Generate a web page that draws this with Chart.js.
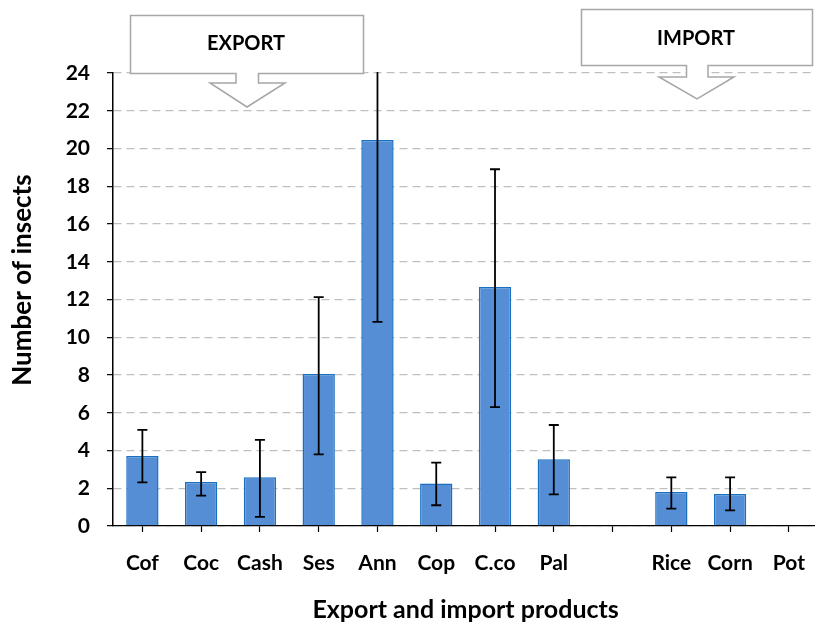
<!DOCTYPE html>
<html>
<head>
<meta charset="utf-8">
<script src="https://cdn.jsdelivr.net/npm/chart.js@4/dist/chart.umd.min.js"></script>
<style>
  html, body { margin: 0; padding: 0; background: #fff; overflow: hidden; }
  #wrap { width: 824px; height: 626px; }
</style>
</head>
<body>
<div id="wrap"><canvas id="c" width="824" height="626"></canvas></div>
<script>
// Products (blank slot separates export and import groups)
const categories = ['Cof', 'Coc', 'Cash', 'Ses', 'Ann', 'Cop', 'C.co', 'Pal', '', 'Rice', 'Corn', 'Pot'];
// Mean number of insects per product
const meanInsects = [3.71, 2.33, 2.58, 8.05, 20.45, 2.25, 12.66, 3.53, null, 1.80, 1.70, 0];
// Error bar ends (lower / upper)
const errLow  = [2.31, 1.61, 0.48, 3.80, 10.81, 1.10, 6.30, 1.68, null, 0.92, 0.83, null];
const errHigh = [5.09, 2.85, 4.56, 12.13, 30.10, 3.36, 18.90, 5.35, null, 2.58, 2.58, null];
// Y axis range and step
const yTicks = { min: 0, max: 24, step: 2 };
// Callout labels
const callouts = ['EXPORT', 'IMPORT'];

const FONT = 'Lato, "Liberation Sans", sans-serif';

const errorBars = {
  id: 'errorBars',
  afterDatasetsDraw(chart) {
    const { ctx, chartArea } = chart;
    const x = chart.scales.x, y = chart.scales.y;
    ctx.save();
    ctx.beginPath();
    ctx.rect(chartArea.left, chartArea.top - 1, chartArea.right - chartArea.left, chartArea.bottom - chartArea.top + 2);
    ctx.clip();
    ctx.strokeStyle = '#000';
    ctx.lineWidth = 1.8;
    const cap = 5;
    categories.forEach((c, i) => {
      if (errLow[i] == null || errHigh[i] == null) return;
      const px = x.getPixelForValue(i);
      const yl = y.getPixelForValue(errLow[i]);
      const yh = y.getPixelForValue(errHigh[i]);
      ctx.beginPath();
      ctx.moveTo(px, yl); ctx.lineTo(px, yh);
      ctx.moveTo(px - cap, yl); ctx.lineTo(px + cap, yl);
      ctx.moveTo(px - cap, yh); ctx.lineTo(px + cap, yh);
      ctx.stroke();
    });
    ctx.restore();
  }
};

function calloutPath(ctx, b) {
  ctx.beginPath();
  ctx.moveTo(b.l, b.t);
  ctx.lineTo(b.r, b.t);
  ctx.lineTo(b.r, b.b);
  ctx.lineTo(b.sr, b.b);
  ctx.lineTo(b.sr, b.sb);
  ctx.lineTo(b.hr, b.sb);
  ctx.lineTo(b.tipX, b.tipY);
  ctx.lineTo(b.hl, b.sb);
  ctx.lineTo(b.sl, b.sb);
  ctx.lineTo(b.sl, b.b);
  ctx.lineTo(b.l, b.b);
  ctx.closePath();
}

const decorations = {
  id: 'decorations',
  afterDraw(chart) {
    const { ctx } = chart;
    ctx.save();
    // Vertical axis title
    ctx.fillStyle = '#000';
    ctx.font = 'bold 26px ' + FONT;
    ctx.textAlign = 'center';
    ctx.textBaseline = 'middle';
    ctx.translate(23, 280);
    ctx.rotate(-Math.PI / 2);
    ctx.fillText('Number of insects', 0, 0);
    ctx.restore();

    // Group callouts
    const boxes = [
      { text: callouts[0], l: 130.5, r: 363.5, t: 15.5, b: 73.5, sl: 236, sr: 258.5, sb: 83, hl: 210, hr: 285, tipX: 247, tipY: 107, ty: 44 },
      { text: callouts[1], l: 581.5, r: 812.5, t: 9.5, b: 65.5, sl: 686.5, sr: 708, sb: 77, hl: 659, hr: 734, tipX: 697, tipY: 99, ty: 39 }
    ];
    ctx.save();
    boxes.forEach(b => {
      calloutPath(ctx, b);
      ctx.fillStyle = '#fff';
      ctx.fill();
      ctx.strokeStyle = '#a6a6a6';
      ctx.lineWidth = 1.5;
      ctx.stroke();
      ctx.fillStyle = '#000';
      ctx.font = 'bold 20px ' + FONT;
      ctx.textAlign = 'center';
      ctx.textBaseline = 'middle';
      ctx.fillText(b.text, (b.l + b.r) / 2 - 1, b.ty);
    });
    ctx.restore();
  }
};

new Chart(document.getElementById('c'), {
  type: 'bar',
  data: {
    labels: categories,
    datasets: [{
      data: meanInsects,
      backgroundColor: '#558ed5',
      borderColor: '#1a6fc0',
      borderWidth: 1.5,
      barPercentage: 0.55,
      categoryPercentage: 1.0
    }]
  },
  options: {
    responsive: false,
    animation: false,
    devicePixelRatio: 1,
    layout: { padding: { top: 73, right: 1, left: 0, bottom: 0 } },
    plugins: {
      legend: { display: false },
      tooltip: { enabled: false }
    },
    scales: {
      x: {
        afterFit(scale) { scale.height = 100; },
        grid: {
          offset: false,
          drawOnChartArea: false,
          drawTicks: true,
          tickLength: 6,
          tickColor: '#000',
          tickWidth: 1.2
        },
        border: { color: '#000', width: 1.2 },
        ticks: {
          color: '#000',
          padding: 19,
          autoSkip: false,
          maxRotation: 0,
          font: { family: FONT, size: 21, weight: 'bold' }
        },
        title: {
          display: true,
          text: 'Export and import products',
          color: '#000',
          padding: { top: 0, bottom: 1 },
          font: { family: FONT, size: 25, weight: 'bold' }
        }
      },
      y: {
        min: yTicks.min,
        max: yTicks.max,
        afterFit(scale) { scale.width = 113; },
        grid: {
          color: '#bfbfbf',
          lineWidth: 1.3,
          drawTicks: true,
          tickLength: 6,
          tickColor: '#000',
          tickWidth: 1.2,
          tickBorderDash: []
        },
        border: { color: '#000', width: 1.5, dash: [8, 5] },
        ticks: {
          stepSize: yTicks.step,
          color: '#000',
          padding: 17,
          font: { family: FONT, size: 21, weight: 'bold' }
        }
      }
    }
  },
  plugins: [errorBars, decorations]
});
</script>
</body>
</html>
